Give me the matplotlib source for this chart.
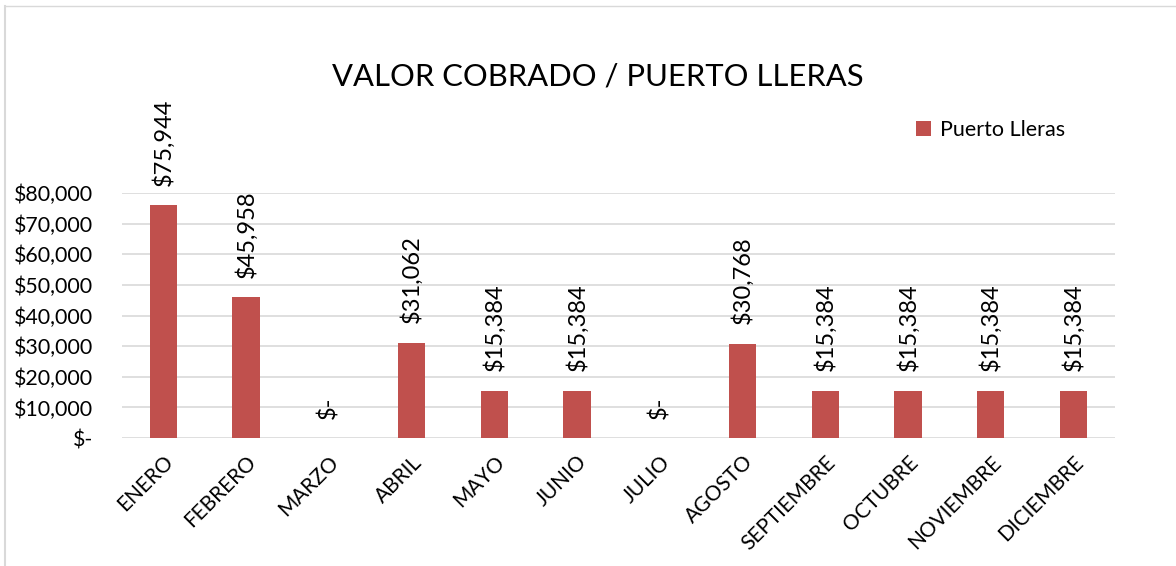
import matplotlib.pyplot as plt
from matplotlib.lines import Line2D

meses = ["ENERO", "FEBRERO", "MARZO", "ABRIL", "MAYO", "JUNIO", "JULIO",
         "AGOSTO", "SEPTIEMBRE", "OCTUBRE", "NOVIEMBRE", "DICIEMBRE"]
valores = [75944, 45958, 0, 31062, 15384, 15384, 0,
           30768, 15384, 15384, 15384, 15384]
yticks = [0, 10000, 20000, 30000, 40000, 50000, 60000, 70000, 80000]

plt.rcParams["font.family"] = ["Lato", "DejaVu Sans"]

def moneda(v):
    return "$-" if v == 0 else "${:,.0f}".format(v)

fig = plt.figure(figsize=(11.76, 5.66), dpi=100)
ax = fig.add_axes([0.1037, 0.2261, 0.8444, 0.4329])

x = list(range(len(meses)))
bars = ax.bar(x, valores, width=0.33, color="#C0504D", label="Puerto Lleras", zorder=3)

for xi, v in zip(x, valores):
    ax.annotate(moneda(v), (xi, v), xytext=(0, 14), textcoords="offset points",
                rotation=90, ha="center", va="bottom", fontsize=17,
                annotation_clip=False)

ax.set_xlim(-0.5, len(meses) - 0.5)
ax.set_ylim(0, 80000)
ax.set_yticks(yticks)
ax.set_yticklabels([moneda(v) for v in yticks], fontsize=15.4)
ax.set_xticks(x)
ax.set_xticklabels(meses, rotation=45, ha="right", rotation_mode="anchor", fontsize=15)
ax.tick_params(length=0)
ax.tick_params(axis="y", pad=21)
ax.tick_params(axis="x", pad=10)
ax.grid(axis="y", color="#D9D9D9", linewidth=1.2, zorder=0)
for s in ax.spines.values():
    s.set_visible(False)

fig.text(0.508, 0.864, "VALOR COBRADO / PUERTO LLERAS", ha="center", va="center", fontsize=22.3)
ax.legend(loc="center left", bbox_to_anchor=(0.78, 1.257), frameon=False,
          fontsize=15.5, handlelength=0.7, handleheight=0.7, handletextpad=0.4)

# chart frame
fig.add_artist(Line2D([0.0045, 0.0045], [0, 0.99], color="#D9D9D9", linewidth=1.5))
fig.add_artist(Line2D([0.0045, 1], [0.99, 0.99], color="#D9D9D9", linewidth=1.0))

fig.savefig("out.png", dpi=100)
